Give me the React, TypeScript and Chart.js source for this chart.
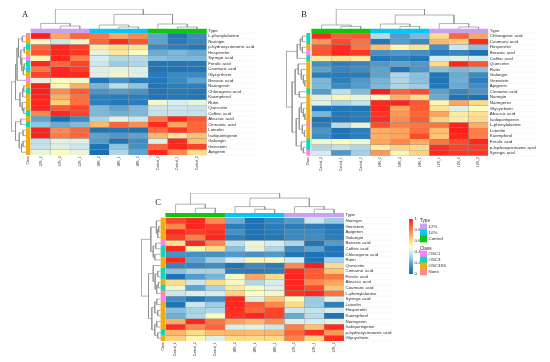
import React, { useEffect, useRef } from "react";
import { Chart, registerables } from "chart.js";

Chart.register(...registerables);

// ---------- Panel A data ----------
const rowsA = ["L-phenylalanine","Naringin","p-hydroxycinnamic acid","Hesperetin","Syringic acid","Ferulic acid","Coumaric acid","Glycyrrhizin","Benzoic acid","Naringenin","Chlorogenic acid","Kaempferol","Rutin","Quercetin","Caffeic acid","Abscisic acid","Cinnamic acid","Luteolin","Isoliquiritigenin","Galangin","Genistein","Apigenin"];
const colsA = ["12%_2","12%_3","12%_1","10%_2","10%_1","10%_3","Control_2","Control_1","Control_3"];
const typesA = ["12%","10%","Control"];
const valuesA = [
  [1,.72,.85,.82,.72,.78,.2,.06,.13],
  [.5,.38,.47,.85,.97,.88,.2,.08,.12],
  [.85,.98,.93,.55,.6,.58,.13,.1,.07],
  [.88,.98,.95,.44,.56,.5,.22,.25,.22],
  [.52,.98,.8,.4,.34,.34,.27,.25,.25],
  [.98,.85,.92,.38,.3,.33,.06,.06,.07],
  [.82,.98,.93,.42,.44,.42,.05,.05,.06],
  [.92,.98,.98,.42,.47,.42,.08,.13,.13],
  [.44,.5,.47,.06,.15,.09,.07,.13,.2],
  [1,.52,.7,.24,.35,.28,.06,.09,.1],
  [1,.77,.87,.16,.18,.16,.06,.08,.07],
  [.99,.7,.83,.1,.09,.1,.05,.07,.06],
  [.98,.63,.83,.1,.07,.09,.48,.41,.45],
  [.98,.88,.92,.25,.2,.25,.38,.38,.37],
  [.78,.98,.92,.25,.23,.25,.37,.37,.37],
  [.2,.03,.13,.32,.43,.38,.82,.98,.88],
  [.28,.22,.26,.68,.85,.77,.97,.72,.85],
  [.99,.78,.85,.05,.06,.04,.85,.95,.85],
  [.99,.8,.85,.2,.17,.2,.68,.58,.66],
  [.36,.43,.42,.18,.05,.14,.42,.98,.66],
  [.37,.42,.38,.05,.28,.15,.85,.98,.92],
  [.45,.5,.45,.03,.33,.2,.98,.78,.6],
];
const rowTreeA = [[0,1,.25],[2,3,.12],[5,6,.12],[-3,7,.18],[4,-4,.28],[-2,-5,.35],[-1,-6,.5],[-7,8,.6],[9,10,.15],[-9,11,.22],[13,14,.15],[12,-11,.25],[-10,-12,.4],[-8,-13,.7],[15,16,.35],[17,18,.2],[19,20,.2],[-17,21,.3],[-16,-18,.45],[-15,-19,.7],[-14,-20,1]];
const colTreeA = [[1,2,.15],[0,-1,.28],[4,5,.1],[3,-3,.2],[7,8,.1],[6,-5,.25],[-4,-6,.73],[-2,-7,1]];

// ---------- Panel B data ----------
const rowsB = ["Chlorogenic acid","Coumaric acid","Hesperetin","Benzoic acid","Caffeic acid","Quercetin","Rutin","Galangin","Genistein","Apigenin","Cinnamic acid","Naringin","Naringenin","Glycyrrhizin","Abscisic acid","Isoliquiritigenin","L-phenylalanine","Luteolin","Kaempferol","Ferulic acid","p-hydroxycinnamic acid","Syringic acid"];
const colsB = ["Control_3","Control_1","Control_2","10%_2","10%_3","10%_1","12%_1","12%_2","12%_3"];
const typesB = ["Control","10%","12%"];
const valuesB = [
  [.98,.87,.88,.34,.18,.25,.6,.85,.72],
  [.75,.9,.83,.07,.18,.13,.68,.63,.97],
  [.88,.97,.82,.67,.52,.58,.15,.38,.27],
  [.88,.98,.95,.15,.17,.15,.09,.12,.05],
  [.55,.58,.55,.06,.1,.06,.4,.43,.4],
  [.15,.1,.12,.17,.2,.17,.6,.98,.88],
  [.2,.12,.14,.2,.05,.16,.27,.25,.27],
  [.1,.08,.08,.2,.33,.27,.06,.22,.13],
  [.25,.1,.17,.24,.33,.27,.05,.23,.1],
  [.25,.13,.18,.25,.33,.3,.07,.22,.14],
  [.18,.35,.26,1,.85,.9,.2,.12,.16],
  [.43,.52,.45,.5,.7,.6,.22,.05,.05],
  [.42,.33,.37,.98,.99,.88,.52,.72,.6],
  [.05,.06,.05,.98,.72,.87,.58,.42,.5],
  [.24,.07,.09,.95,.75,.85,.72,.55,.58],
  [.05,.06,.08,.97,.77,.87,.62,.55,.6],
  [.1,.34,.45,.9,.8,.82,.82,.99,.7],
  [.16,.05,.1,.7,.72,.83,.66,1,.8],
  [.14,.06,.1,.7,.72,.9,.65,.98,.8],
  [.47,.5,.47,.72,.78,.7,.82,.9,.98],
  [.33,.36,.33,.55,.62,.6,.97,.92,.93],
  [.4,.17,.31,.75,.52,.62,.98,.95,.95],
];
const rowTreeB = [[0,1,.2],[2,3,.2],[-1,-2,.3],[-3,4,.45],[8,9,.08],[7,-5,.15],[6,-6,.25],[5,-7,.4],[10,11,.35],[-8,-9,.55],[14,15,.08],[13,-11,.15],[12,-12,.25],[17,18,.1],[16,-14,.2],[-13,-15,.35],[20,21,.15],[19,-17,.25],[-16,-18,.5],[-10,-19,.7],[-4,-20,1]];
const colTreeB = [[1,2,.13],[0,-1,.2],[4,5,.13],[3,-3,.25],[7,8,.1],[6,-5,.27],[-4,-6,.7],[-2,-7,1]];

// ---------- Panel C data ----------
const rowsC = ["Naringin","Genistein","Apigenin","Galangin","Benzoic acid","Caffeic acid","Chlorogenic acid","Rutin","Quercetin","Cinnamic acid","Ferulic acid","Abscisic acid","Coumaric acid","L-phenylalanine","Syringic acid","Luteolin","Hesperetin","Kaempferol","Naringenin","Isoliquiritigenin","p-hydroxycinnamic acid","Glycyrrhizin"];
const colsC = ["Control_2","Control_3","Control_1","10%_3","10%_2","10%_1","12%_3","12%_1","12%_2"];
const typesC = ["Control","10%","12%"];
const valuesC = [
  [.92,.98,.77,.22,.05,.12,.18,.38,.3],
  [.78,.98,.93,.1,.05,.09,.1,.1,.07],
  [.98,.93,.96,.15,.06,.09,.13,.13,.09],
  [.93,.8,.98,.1,.05,.07,.13,.14,.1],
  [.6,.98,.78,.36,.45,.4,.33,.06,.18],
  [.98,.52,.6,.27,.44,.33,.13,.2,.06],
  [.15,.15,.15,.17,.15,.17,.06,.05,.06],
  [.98,.2,.3,.4,.52,.48,.4,.05,.32],
  [.12,.12,.14,.05,.13,.09,.78,1,.6],
  [.27,.32,.32,.1,.08,.1,.98,.87,.65],
  [.05,.18,.24,.5,.72,.6,.99,.87,.82],
  [.6,.38,.6,.48,.33,.4,.98,.78,.72],
  [.45,.2,.32,.56,.5,.43,.98,.9,.65],
  [.38,.42,.4,.62,.5,.47,.95,.98,.83],
  [.14,.06,.14,.99,.42,.65,.5,.3,.42],
  [.05,.38,.3,.98,.88,.78,.6,.3,.1],
  [.27,.32,.33,.97,.85,.92,.38,.37,.4],
  [.23,.33,.5,.95,.98,.92,.22,.35,.05],
  [.7,.98,.82,.73,.68,.77,.42,.4,.43],
  [.97,.78,.85,.41,.43,.38,.8,.66,.97],
  [.68,.6,.67,.68,.67,.68,.85,.97,.75],
  [.62,.52,.42,.6,.6,.6,.8,.62,.97],
];
const rowTreeC = [[1,2,.1],[-1,3,.15],[0,-2,.22],[4,5,.25],[6,7,.3],[-4,-5,.38],[-3,-6,.5],[9,10,.15],[11,12,.12],[-9,13,.2],[-8,-10,.28],[8,-11,.38],[14,15,.2],[16,17,.15],[-13,-14,.3],[18,19,.2],[20,21,.15],[-16,-17,.3],[-15,-18,.45],[-12,-19,.62],[-7,-20,1]];
const colTreeC = [[1,2,.25],[0,-1,.45],[4,5,.2],[3,-3,.33],[7,8,.2],[6,-5,.33],[-4,-6,.75],[-2,-7,1]];

// ---------- Shared legend data ----------
const typeLegend = ["12%","10%","Control"];
const classLegend = ["OSC1","OSC3","OSC3X6","None"];
const scaleTicks = [0,.2,.4,.6,.8,1];
const osc1 = ["Syringic acid","Benzoic acid"];
const osc3 = ["p-hydroxycinnamic acid","Ferulic acid","Coumaric acid","Chlorogenic acid","Caffeic acid","Cinnamic acid"];
const noClass = ["L-phenylalanine"];

// ---------- Styles ----------
const TYPE_COLOR: Record<string,string> = { "12%":"#C9A0F2", "10%":"#02C8F5", Control:"#10C510" };
const CLASS_COLOR: Record<string,string> = { OSC1:"#FF80F0", OSC3:"#10D9B2", OSC3X6:"#F0AD0C", None:"#FF8D8D" };
const RAMP = ["#1268b0","#2d7fbb","#5ea3cd","#9dcde3","#d6ecee","#fdfcc0","#fedb88","#fdae63","#fd7f48","#fd4c2c","#fe1e1c"];
const LABEL_FONT = "Liberation Sans";
const FONT_COLOR = "#2b2b2b";
const TREE_COLOR = "#8f8f8f";
const noTickGrid = { display:false, drawTicks:false };

function rgb(hex: string) { return [1,3,5].map(i => parseInt(hex.slice(i,i+2),16)); }
function heat(v: number) {
  const p = Math.min(.9999, Math.max(0, v)) * (RAMP.length-1);
  const i = Math.floor(p), f = p-i, a = rgb(RAMP[i]), b = rgb(RAMP[i+1]);
  return `rgb(${a.map((c,k)=>Math.round(c+(b[k]-c)*f)).join(",")})`;
}
function classOf(name: string) {
  if (osc1.includes(name)) return "OSC1";
  if (osc3.includes(name)) return "OSC3";
  if (noClass.includes(name)) return "None";
  return "OSC3X6";
}
function treeSegments(merges: number[][], leaves: number, map: (pos:number,h:number)=>{x:number,y:number}) {
  const nodes: {pos:number,h:number}[] = [];
  const get = (k:number) => k>=0 ? {pos:k+.5,h:0} : nodes[-k-1];
  const pts: {x:number,y:number}[] = [];
  merges.forEach(([a,b,h]) => {
    const A = get(a), B = get(b);
    pts.push(map(A.pos,A.h),map(A.pos,h),map(B.pos,h),map(B.pos,B.h),{x:NaN,y:NaN});
    nodes.push({pos:(A.pos+B.pos)/2,h});
  });
  return pts;
}

type Panel = {
  letter:string; rows:string[]; cols:string[]; types:string[]; values:number[][]; rowTree:number[][]; colTree:number[][];
  heatL:number; heatR:number; rowsT:number; rowsB:number; typeT:number; typeB:number; classL:number; classR:number;
  dendL:number; dendT:number; labelW:number; labelX:number; labelY:number;
};
const panels: Panel[] = [
  { letter:"A", rows:rowsA, cols:colsA, types:typesA, values:valuesA, rowTree:rowTreeA, colTree:colTreeA,
    heatL:31, heatR:206.7, rowsT:33.3, rowsB:155, typeT:29, typeB:32.7, classL:26.3, classR:30, dendL:11, dendT:9, labelW:48.3, labelX:25, labelY:15 },
  { letter:"B", rows:rowsB, cols:colsB, types:typesB, values:valuesB, rowTree:rowTreeB, colTree:colTreeB,
    heatL:311.7, heatR:488.3, rowsT:33.3, rowsB:155.7, typeT:29, typeB:32.7, classL:306.7, classR:310, dendL:286.7, dendT:9, labelW:48.7, labelX:304, labelY:15 },
  { letter:"C", rows:rowsC, cols:colsC, types:typesC, values:valuesC, rowTree:rowTreeC, colTree:colTreeC,
    heatL:165.7, heatR:344, rowsT:218, rowsB:341, typeT:213.3, typeB:217, classL:161, classR:165, dendL:141, dendT:193.3, labelW:48, labelX:158, labelY:203 },
];

const noPad = (s:any) => { s.paddingLeft=0; s.paddingRight=0; s.paddingTop=0; s.paddingBottom=0; };

function panelConfig(p: Panel, W:number, H:number): any {
  const cw = (p.heatR-p.heatL)/9, rh = (p.rowsB-p.rowsT)/22;
  const ux = (v:number) => (v-p.heatL)/cw, uy = (v:number) => (v-p.rowsT)/rh;
  const classX = ux((p.classL+p.classR)/2);
  const cellDs = p.values.map((row,r) => ({
    type:"bar", stack:"s", order:2, barThickness:cw, borderSkipped:false, borderWidth:.4, borderColor:"rgba(120,120,120,.6)",
    data: row.map((_,c)=>({x:c+.5,y:[r,r+1]})), backgroundColor: row.map(heat),
  }));
  const typeDs = {
    type:"bar", stack:"s", order:2, barThickness:cw, borderSkipped:false, borderWidth:0,
    data: p.cols.map((_,c)=>({x:c+.5,y:[uy(p.typeT),uy(p.typeB)]})),
    backgroundColor: p.cols.map(c=>TYPE_COLOR[c.split("_")[0]]),
  };
  const classDs = {
    type:"bar", stack:"s", order:2, barThickness:p.classR-p.classL, borderSkipped:false, borderWidth:0,
    data: p.rows.map((_,r)=>({x:classX,y:[r,r+1]})),
    backgroundColor: p.rows.map(n=>CLASS_COLOR[classOf(n)]),
  };
  const lineBase = { type:"line", order:1, borderColor:TREE_COLOR, borderWidth:.7, pointRadius:0, tension:0, fill:false, spanGaps:false };
  const colDs = { ...lineBase, data: treeSegments(p.colTree,9,(pos,h)=>({x:pos,y:uy(p.typeT)+h*(uy(p.dendT)-uy(p.typeT))})) };
  const rowDs = { ...lineBase, data: treeSegments(p.rowTree,22,(pos,h)=>({x:ux(p.classL-.3)+h*(ux(p.dendL)-ux(p.classL-.3)),y:pos})) };
  const xTicks = [{v:classX,t:"Class"},...p.cols.map((t,c)=>({v:c+.5,t}))];
  const yTicks = [{v:(uy(p.typeT)+uy(p.typeB))/2,t:"Type"},...p.rows.map((t,r)=>({v:r+.5,t}))];
  const lookup = (arr:{v:number,t:string}[]) => (val:any)=>arr.find(a=>Math.abs(a.v-val)<1e-6)?.t ?? "";
  const letterPlugin = {
    id:"letter",
    beforeDatasetsDraw(c:any){
      const {ctx,chartArea} = c;
      ctx.save(); ctx.strokeStyle="#eef1f5"; ctx.lineWidth=.6;
      for(let r=0;r<=22;r++){ const y=c.scales.y.getPixelForValue(r);
        ctx.beginPath(); ctx.moveTo(chartArea.right,y); ctx.lineTo(c.width,y); ctx.stroke(); }
      ctx.restore();
    },
    afterDraw(c:any){
      const ctx=c.ctx; ctx.save(); ctx.font='8.5px "Liberation Serif"'; ctx.fillStyle="#222"; ctx.textAlign="center"; ctx.textBaseline="middle";
      ctx.fillText(p.letter,p.labelX-p.dendL,p.labelY-p.dendT); ctx.restore();
    },
  };
  return {
    data:{ datasets:[...cellDs,typeDs,classDs,colDs,rowDs] },
    plugins:[letterPlugin],
    options:{
      responsive:false, animation:false, layout:{padding:0},
      plugins:{legend:{display:false},tooltip:{enabled:false},title:{display:false}},
      scales:{
        x:{ type:"linear", stacked:true, min:ux(p.dendL), max:9, position:"bottom", offset:false, grid:noTickGrid, border:{display:false},
          afterBuildTicks:(s:any)=>{s.ticks=xTicks.map(a=>({value:a.v}));},
          afterFit:(s:any)=>{s.height=H-(p.rowsB-p.dendT); noPad(s);},
          ticks:{autoSkip:false,maxRotation:90,minRotation:90,padding:1.5,font:{family:LABEL_FONT,size:3.2},color:FONT_COLOR,callback:lookup(xTicks)} },
        y:{ type:"linear", stacked:false, reverse:true, min:uy(p.dendT), max:22, position:"right", grid:noTickGrid, border:{display:false},
          afterBuildTicks:(s:any)=>{s.ticks=yTicks.map(a=>({value:a.v}));},
          afterFit:(s:any)=>{s.width=W-(p.heatR-p.dendL); noPad(s);},
          ticks:{autoSkip:false,padding:1.5,font:{family:LABEL_FONT,size:4.4},color:FONT_COLOR,callback:lookup(yTicks)} },
      },
    },
  };
}

function colorbarConfig(): any {
  return {
    data:{ datasets:[{
      type:"bar", stack:"s", barThickness:3.2, borderWidth:0, borderSkipped:false,
      data:[{x:.5,y:[0,1]}],
      backgroundColor:(ctx:any)=>{
        const area=ctx.chart.chartArea; if(!area) return RAMP[0];
        const g=ctx.chart.ctx.createLinearGradient(0,area.bottom,0,area.top);
        RAMP.forEach((c,i)=>g.addColorStop(i/(RAMP.length-1),c)); return g;
      },
    }]},
    options:{
      responsive:false, animation:false, layout:{padding:{top:3,bottom:3,left:0,right:0}},
      plugins:{legend:{display:false},tooltip:{enabled:false}},
      scales:{
        x:{type:"linear",stacked:true,min:0,max:1,display:true,grid:noTickGrid,border:{display:false},ticks:{display:false},afterFit:(s:any)=>{s.height=0;noPad(s);}},
        y:{type:"linear",stacked:false,min:0,max:1,position:"right",grid:noTickGrid,border:{display:false},
          afterBuildTicks:(s:any)=>{s.ticks=scaleTicks.map(value=>({value}));},
          afterFit:(s:any)=>{s.width=12;noPad(s);},
          ticks:{padding:1.5,font:{family:LABEL_FONT,size:4.4},color:FONT_COLOR,callback:(v:any)=>String(v)}},
      },
    },
  };
}

function swatchConfig(): any {
  const classStart = 4.5;
  const entries = [
    ...typeLegend.map((t,i)=>({t,r:i,c:TYPE_COLOR[t]})),
    ...classLegend.map((t,i)=>({t,r:classStart+i,c:CLASS_COLOR[t]})),
  ];
  const titles = [{t:"Type",r:-.5},{t:"Class",r:4.17}];
  return {
    data:{datasets:[{
      type:"bar", stack:"s", barThickness:6.5, borderWidth:0, borderSkipped:false,
      data:entries.map(e=>({x:.5,y:[e.r,e.r+1]})), backgroundColor:entries.map(e=>e.c),
    }]},
    plugins:[{id:"titles",afterDraw(c:any){
      const ctx=c.ctx; ctx.save(); ctx.font=`4.6px "${LABEL_FONT}"`; ctx.fillStyle=FONT_COLOR; ctx.textBaseline="middle";
      titles.forEach(t=>ctx.fillText(t.t,c.chartArea.left,c.scales.y.getPixelForValue(t.r))); ctx.restore();
    }}],
    options:{
      responsive:false, animation:false, layout:{padding:0},
      plugins:{legend:{display:false},tooltip:{enabled:false}},
      scales:{
        x:{type:"linear",stacked:true,min:0,max:1,grid:noTickGrid,border:{display:false},ticks:{display:false},afterFit:(s:any)=>{s.height=0;noPad(s);}},
        y:{type:"linear",stacked:false,reverse:true,min:-1,max:9,position:"right",grid:noTickGrid,border:{display:false},
          afterBuildTicks:(s:any)=>{s.ticks=entries.map(e=>({value:e.r+.5}));},
          afterFit:(s:any)=>{s.width=30;noPad(s);},
          ticks:{autoSkip:false,padding:1.5,font:{family:LABEL_FONT,size:4.4},color:FONT_COLOR,
            callback:(v:any)=>entries.find(e=>Math.abs(e.r+.5-v)<1e-6)?.t ?? ""}},
      },
    },
  };
}

function ChartBox({left,top,width,height,make}:{left:number,top:number,width:number,height:number,make:()=>any}) {
  const ref = useRef<HTMLCanvasElement>(null);
  useEffect(()=>{
    const chart = new Chart(ref.current as HTMLCanvasElement, make());
    return ()=>chart.destroy();
  },[]);
  return <canvas ref={ref} width={width} height={height} style={{position:"absolute",left,top,width,height,display:"block",filter:"blur(0.3px)"}} />;
}

export default function App() {
  return (
    <div style={{position:"fixed",left:0,top:0,width:550,height:362,background:"#fff",overflow:"hidden"}}>
      {panels.map(p=>{
        const left=Math.floor(p.dendL), top=Math.floor(p.dendT);
        const q={...p,dendL:left,dendT:top};
        const W=Math.round(p.heatR+p.labelW-left), H=Math.round(p.rowsB+20-top);
        return <ChartBox key={p.letter} left={left} top={top} width={W} height={H} make={()=>panelConfig(q,W,H)} />;
      })}
      <ChartBox left={409} top={216} width={16} height={61} make={colorbarConfig} />
      <ChartBox left={420} top={218} width={37} height={60} make={swatchConfig} />
    </div>
  );
}
